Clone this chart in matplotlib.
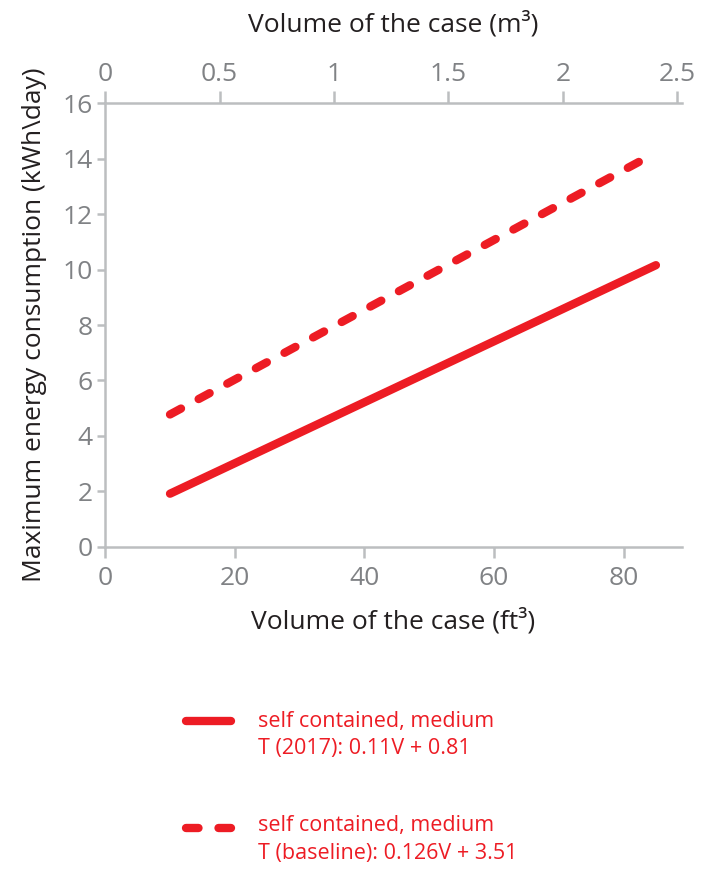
import matplotlib
matplotlib.use("Agg")
import matplotlib.pyplot as plt
from matplotlib.lines import Line2D

# Data (ft3 -> kWh/day)
volume_ft3 = [10, 85]
energy_2017 = [1.91, 10.16]
energy_baseline = [4.77, 14.22]

labels_2017 = ["self contained, medium", "T (2017): 0.11V + 0.81"]
labels_baseline = ["self contained, medium", "T (baseline): 0.126V + 3.51"]

x_ticks = [0, 20, 40, 60, 80]
y_ticks = [0, 2, 4, 6, 8, 10, 12, 14, 16]
top_ticks = [0, 0.5, 1, 1.5, 2, 2.5]
top_tick_labels = ["0", "0.5", "1", "1.5", "2", "2.5"]

FT3_PER_M3 = 35.3147

red = "#ed1c24"
grey_axis = "#bcbec0"
grey_text = "#808285"
dark = "#231f20"
lw = 6.0
fs = 19

plt.rcParams.update({'font.family': 'Open Sans'})
plt.rcParams.update({'font.size': fs})

fig = plt.figure(figsize=(7.11, 8.69), dpi=100)
ax = fig.add_axes([0.148, 0.371, 0.811, 0.510])

ax.plot(volume_ft3, energy_2017, color=red, lw=lw, solid_capstyle="round")
ax.plot(volume_ft3, energy_baseline, color=red, lw=lw, dash_capstyle="round",
        dashes=(1.5, 2.4))

ax.set_xlim(0, 89)
ax.set_ylim(0, 16)
ax.set_xticks(x_ticks)
ax.set_yticks(y_ticks)

for side in ["right", "top"]:
    ax.spines[side].set_visible(False)
for side in ["left", "bottom"]:
    ax.spines[side].set_color(grey_axis)
    ax.spines[side].set_linewidth(1.8)

ax.tick_params(axis="x", colors=grey_axis, labelcolor=grey_text, length=8,
               width=1.8, labelsize=fs, pad=6)
ax.tick_params(axis="y", colors=grey_axis, labelcolor=grey_text, length=6,
               width=1.8, labelsize=fs, pad=3)

ax.set_xlabel("Volume of the case (ft³)", color=dark, fontsize=fs, labelpad=12)
ax.set_ylabel("Maximum energy consumption (kWh\\day)", color=dark, fontsize=fs,
              labelpad=11)

# top axis in m3
top = ax.secondary_xaxis("top", functions=(lambda v: v / FT3_PER_M3,
                                           lambda v: v * FT3_PER_M3))
top.set_xticks(top_ticks)
top.set_xticklabels(top_tick_labels)
top.spines["top"].set_color(grey_axis)
top.spines["top"].set_linewidth(1.8)
top.tick_params(axis="x", colors=grey_axis, labelcolor=grey_text, length=9,
                width=1.8, labelsize=fs, pad=3)
top.set_xlabel("Volume of the case (m³)", color=dark, fontsize=fs, labelpad=22)

# legend drawn by hand below the plot
fig.add_artist(Line2D([0.262, 0.325], [0.1703, 0.1703], transform=fig.transFigure,
                      color=red, lw=lw, solid_capstyle="round"))
fig.add_artist(Line2D([0.262, 0.325], [0.0472, 0.0472], transform=fig.transFigure,
                      color=red, lw=lw, dash_capstyle="round", dashes=(1.5, 2.4)))
for lines, ys in [(labels_2017, [0.1703, 0.1392]),
                  (labels_baseline, [0.0495, 0.0184])]:
    for txt, y in zip(lines, ys):
        fig.text(0.363, y, txt, color=red, fontsize=15.5, ha="left",
                 va="center")

fig.savefig("out.png", dpi=100)
